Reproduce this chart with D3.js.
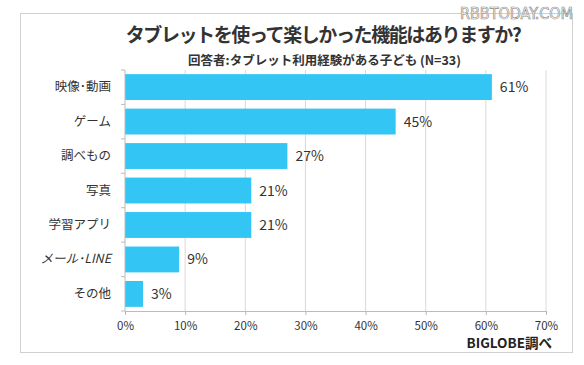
<!DOCTYPE html>
<html><head><meta charset="utf-8">
<script src="https://cdn.jsdelivr.net/npm/d3@7"></script>
<style>body{margin:0;background:#fff}svg{display:block}</style>
</head><body>
<script>
const categories = ["映像･動画","ゲーム","調べもの","写真","学習アプリ","メール･LINE","その他"];
const values = [61,45,27,21,21,9,3];
const ticks = [0,10,20,30,40,50,60,70];
const title = "タブレットを使って楽しかった機能はありますか?";
const subtitle = "回答者:タブレット利用経験がある子ども (N=33)";
const source = "BIGLOBE調べ";

const W=584,H=365;
const svg=d3.select("body").append("svg").attr("width",W).attr("height",H);
const font="'Noto Sans CJK JP','Noto Sans',sans-serif";

svg.append("rect").attr("x",20.5).attr("y",13.5).attr("width",552).attr("height",339)
  .attr("fill","#fff").attr("stroke","#d0d0d0");

svg.append("text").attr("x",460).attr("y",18.5)
  .attr("font-family","'Liberation Sans Narrow','DejaVu Sans Condensed',sans-serif").attr("font-size",15)
  .attr("textLength",113).attr("lengthAdjust","spacingAndGlyphs")
  .attr("fill","#fff").attr("stroke","#888").attr("stroke-width",0.6).text("RBBTODAY.COM");

svg.append("text").attr("x",323).attr("y",42).attr("text-anchor","middle")
  .attr("font-family",font).attr("font-weight","bold").attr("font-size",19).attr("letter-spacing",-1.4)
  .attr("fill","#333").text(title);
svg.append("text").attr("x",324.5).attr("y",65).attr("text-anchor","middle")
  .attr("font-family",font).attr("font-weight","bold").attr("font-size",12.5).attr("fill","#333").text(subtitle);

const x=d3.scaleLinear().domain([0,70]).range([125,546]);
const y=d3.scaleBand().domain(categories).range([70,311]).paddingInner(0.25).paddingOuter(0.12);

const g=svg.append("g");
// grid
g.selectAll("line.grid").data(ticks.slice(1)).join("line").attr("class","grid")
  .attr("x1",d=>x(d)).attr("x2",d=>x(d)).attr("y1",70).attr("y2",311)
  .attr("stroke","#d9d9d9").attr("stroke-width",1);

// bars
g.selectAll("rect.bar").data(values).join("rect").attr("class","bar")
  .attr("x",x(0)).attr("y",(d,i)=>y(categories[i]))
  .attr("width",d=>x(d)-x(0)).attr("height",y.bandwidth())
  .attr("fill","#33c5f3");

// value labels
g.selectAll("text.val").data(values).join("text").attr("class","val")
  .attr("x",d=>x(d)+8).attr("y",(d,i)=>y(categories[i])+y.bandwidth()/2)
  .attr("dy","0.36em").attr("font-family",font).attr("font-size",14).attr("fill","#333")
  .text(d=>d+"%");

// x axis
const xa=svg.append("g").attr("transform","translate(0,311)")
  .call(d3.axisBottom(x).tickValues(ticks).tickFormat(d=>d+"%").tickSize(4).tickSizeOuter(0));
xa.select(".domain").attr("stroke","#bbb");
xa.selectAll(".tick line").attr("stroke","#bbb");
xa.selectAll(".tick text").attr("font-family",font).attr("font-size",11.5).attr("fill","#333").attr("dy","1.05em");

// y axis
const ya=svg.append("g").attr("transform","translate(125,0)")
  .call(d3.axisLeft(y).tickSize(0).tickPadding(14));
ya.select(".domain").attr("stroke","#bbb").attr("d","M0,70V311");
ya.selectAll(".tick text").attr("font-family",font).attr("font-size",12.5).attr("fill","#333")
  .attr("font-style",d=>d.includes("LINE")?"italic":null);
// boundary ticks on y axis
const bounds=d3.range(categories.length+1).map(i=>70+i*(241/categories.length));
ya.selectAll("line.bt").data(bounds).join("line").attr("class","bt")
  .attr("x1",-4).attr("x2",0).attr("y1",d=>d).attr("y2",d=>d).attr("stroke","#bbb");

svg.append("text").attr("x",552).attr("y",348).attr("text-anchor","end")
  .attr("font-family",font).attr("font-weight","bold").attr("font-size",13.5).attr("fill","#222").text(source);
</script>
</body></html>
